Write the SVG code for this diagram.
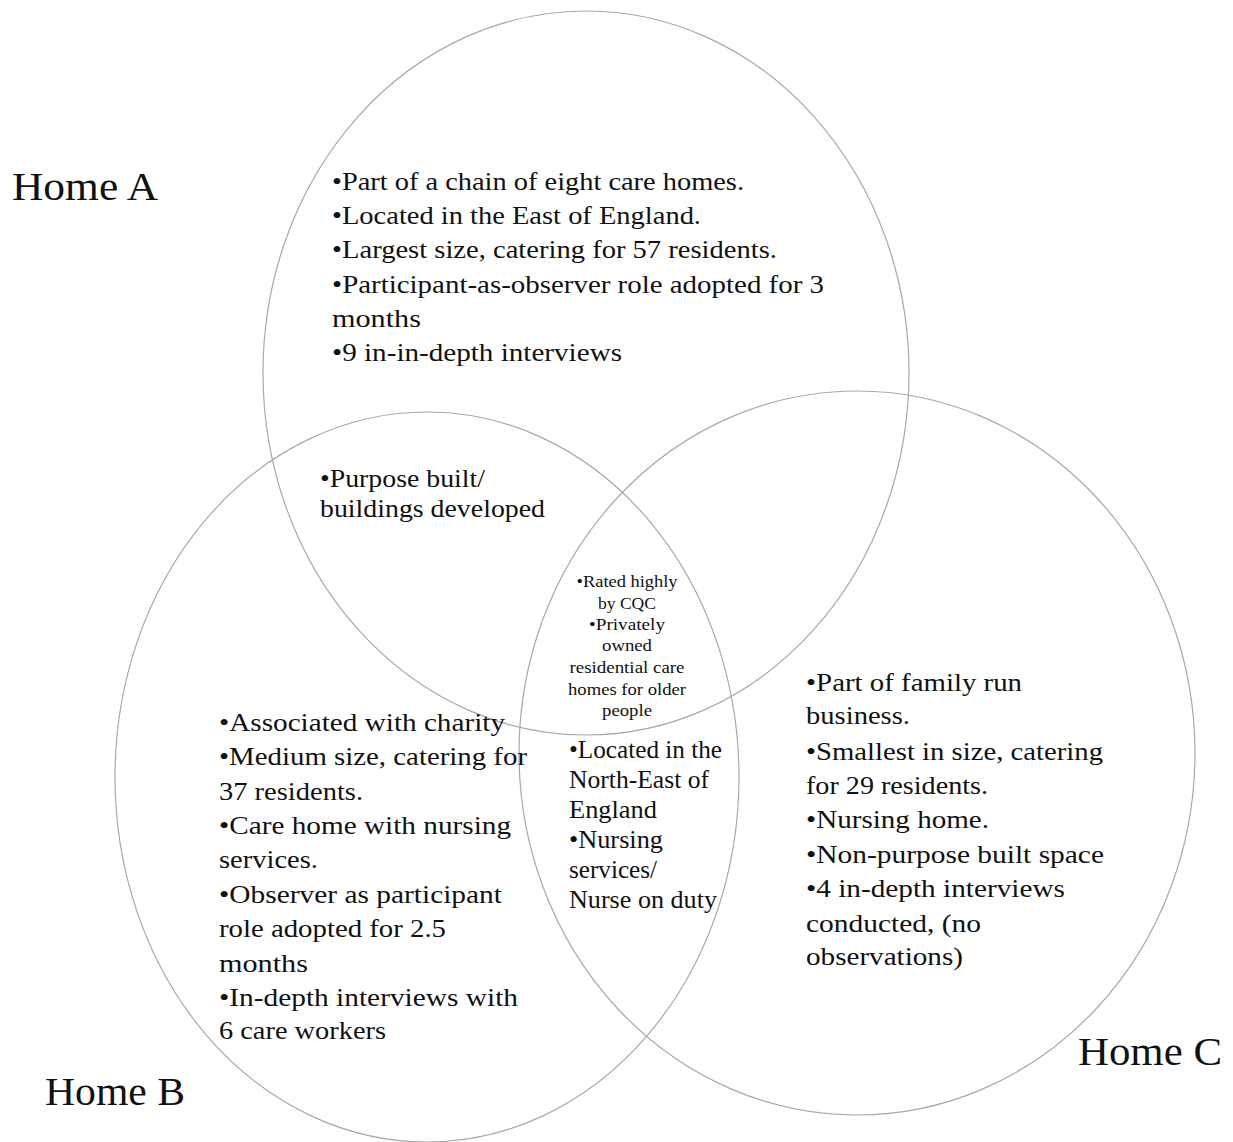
<svg xmlns="http://www.w3.org/2000/svg" width="1233" height="1142" viewBox="0 0 1233 1142">
  <style>
    .ring { fill: none; stroke: #a8a8a8; stroke-width: 1.2; }
    .t { font-family: "Liberation Serif", "DejaVu Serif", serif; fill: #111; font-size: 26px; }
    .title { font-family: "Liberation Serif", "DejaVu Serif", serif; fill: #111; font-size: 41px; }
    .small { font-family: "Liberation Serif", "DejaVu Serif", serif; fill: #111; font-size: 16px; text-anchor: middle; }
  </style>
  <rect width="1233" height="1142" fill="#ffffff"/>

  <!-- outlines of the three homes -->
  <g id="connectors">
    <ellipse id="ring-a" class="ring" cx="586" cy="373" rx="323" ry="362"/>
    <ellipse id="ring-b" class="ring" cx="427" cy="777" rx="312" ry="365"/>
    <ellipse id="ring-c" class="ring" cx="857" cy="753" rx="338" ry="362"/>
  </g>

  <!-- Home A -->
  <g id="home-a">
    <text class="title" x="12" y="200" textLength="146" lengthAdjust="spacingAndGlyphs">Home A</text>
    <text class="t" x="332" y="190" textLength="412" lengthAdjust="spacingAndGlyphs">•Part of a chain of eight care homes.</text>
    <text class="t" x="332" y="224" textLength="369" lengthAdjust="spacingAndGlyphs">•Located in the East of England.</text>
    <text class="t" x="332" y="258" textLength="445" lengthAdjust="spacingAndGlyphs">•Largest size, catering for 57 residents.</text>
    <text class="t" x="332" y="293" textLength="492" lengthAdjust="spacingAndGlyphs">•Participant-as-observer role adopted for 3</text>
    <text class="t" x="332" y="327" textLength="89" lengthAdjust="spacingAndGlyphs">months</text>
    <text class="t" x="332" y="361" textLength="290" lengthAdjust="spacingAndGlyphs">•9 in-in-depth interviews</text>
  </g>

  <!-- overlap of A and B -->
  <g id="overlap-ab">
    <text class="t" x="320" y="487" textLength="165" lengthAdjust="spacingAndGlyphs">•Purpose built/</text>
    <text class="t" x="320" y="517" textLength="225" lengthAdjust="spacingAndGlyphs">buildings developed</text>
  </g>

  <!-- overlap of all three -->
  <g id="overlap-abc">
    <text class="small" x="627" y="587" textLength="101" lengthAdjust="spacingAndGlyphs">•Rated highly</text>
    <text class="small" x="627" y="609" textLength="58" lengthAdjust="spacingAndGlyphs">by CQC</text>
    <text class="small" x="627" y="630" textLength="76" lengthAdjust="spacingAndGlyphs">•Privately</text>
    <text class="small" x="627" y="651" textLength="50" lengthAdjust="spacingAndGlyphs">owned</text>
    <text class="small" x="627" y="673" textLength="115" lengthAdjust="spacingAndGlyphs">residential care</text>
    <text class="small" x="627" y="695" textLength="118" lengthAdjust="spacingAndGlyphs">homes for older</text>
    <text class="small" x="627" y="716" textLength="50" lengthAdjust="spacingAndGlyphs">people</text>
  </g>

  <!-- overlap of B and C -->
  <g id="overlap-bc">
    <text class="t" x="569" y="758" textLength="153" lengthAdjust="spacingAndGlyphs">•Located in the</text>
    <text class="t" x="569" y="788" textLength="140" lengthAdjust="spacingAndGlyphs">North-East of</text>
    <text class="t" x="569" y="818" textLength="88" lengthAdjust="spacingAndGlyphs">England</text>
    <text class="t" x="569" y="848" textLength="94" lengthAdjust="spacingAndGlyphs">•Nursing</text>
    <text class="t" x="569" y="878" textLength="88" lengthAdjust="spacingAndGlyphs">services/</text>
    <text class="t" x="569" y="908" textLength="148" lengthAdjust="spacingAndGlyphs">Nurse on duty</text>
  </g>

  <!-- Home B -->
  <g id="home-b">
    <text class="title" x="45" y="1105" textLength="140" lengthAdjust="spacingAndGlyphs">Home B</text>
    <text class="t" x="219" y="731" textLength="286" lengthAdjust="spacingAndGlyphs">•Associated with charity</text>
    <text class="t" x="219" y="765" textLength="308" lengthAdjust="spacingAndGlyphs">•Medium size, catering for</text>
    <text class="t" x="219" y="800" textLength="144" lengthAdjust="spacingAndGlyphs">37 residents.</text>
    <text class="t" x="219" y="834" textLength="292" lengthAdjust="spacingAndGlyphs">•Care home with nursing</text>
    <text class="t" x="219" y="868" textLength="99" lengthAdjust="spacingAndGlyphs">services.</text>
    <text class="t" x="219" y="903" textLength="283" lengthAdjust="spacingAndGlyphs">•Observer as participant</text>
    <text class="t" x="219" y="937" textLength="227" lengthAdjust="spacingAndGlyphs">role adopted for 2.5</text>
    <text class="t" x="219" y="972" textLength="89" lengthAdjust="spacingAndGlyphs">months</text>
    <text class="t" x="219" y="1006" textLength="299" lengthAdjust="spacingAndGlyphs">•In-depth interviews with</text>
    <text class="t" x="219" y="1039" textLength="167" lengthAdjust="spacingAndGlyphs">6 care workers</text>
  </g>

  <!-- Home C -->
  <g id="home-c">
    <text class="title" x="1078" y="1065" textLength="144" lengthAdjust="spacingAndGlyphs">Home C</text>
    <text class="t" x="806" y="691" textLength="216" lengthAdjust="spacingAndGlyphs">•Part of family run</text>
    <text class="t" x="806" y="724" textLength="104" lengthAdjust="spacingAndGlyphs">business.</text>
    <text class="t" x="806" y="760" textLength="297" lengthAdjust="spacingAndGlyphs">•Smallest in size, catering</text>
    <text class="t" x="806" y="794" textLength="182" lengthAdjust="spacingAndGlyphs">for 29 residents.</text>
    <text class="t" x="806" y="828" textLength="183" lengthAdjust="spacingAndGlyphs">•Nursing home.</text>
    <text class="t" x="806" y="863" textLength="298" lengthAdjust="spacingAndGlyphs">•Non-purpose built space</text>
    <text class="t" x="806" y="897" textLength="259" lengthAdjust="spacingAndGlyphs">•4 in-depth interviews</text>
    <text class="t" x="806" y="932" textLength="175" lengthAdjust="spacingAndGlyphs">conducted, (no</text>
    <text class="t" x="806" y="965" textLength="157" lengthAdjust="spacingAndGlyphs">observations)</text>
  </g>
</svg>
